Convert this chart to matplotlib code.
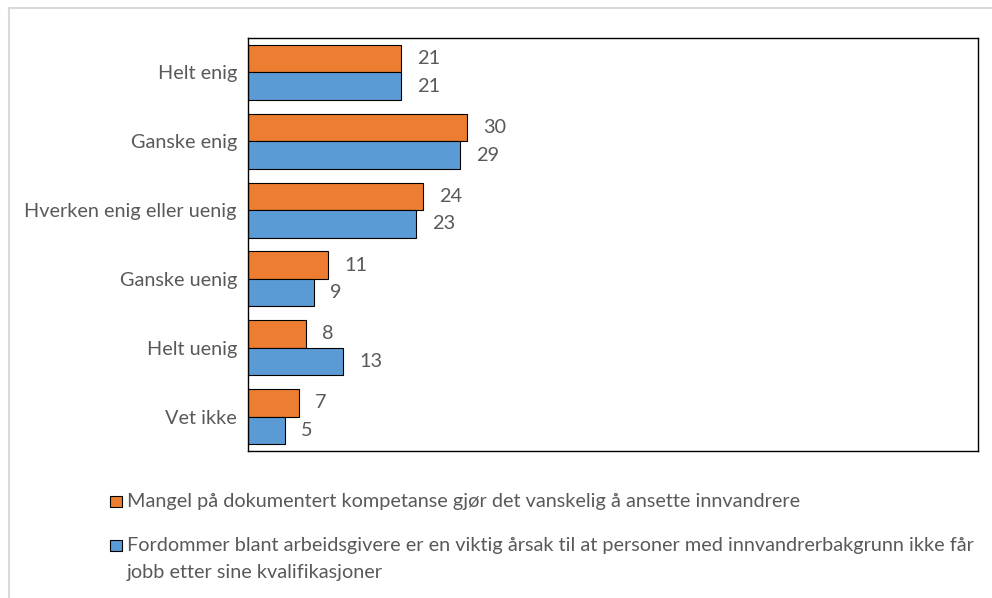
import matplotlib.pyplot as plt
import numpy as np
from matplotlib.lines import Line2D
from matplotlib.patches import Rectangle

plt.rcParams["font.family"] = ["Lato", "DejaVu Sans"]

categories = ["Helt enig", "Ganske enig", "Hverken enig eller uenig",
              "Ganske uenig", "Helt uenig", "Vet ikke"]
mangel = [21, 30, 24, 11, 8, 7]
fordommer = [21, 29, 23, 9, 13, 5]
labels = [
    "Mangel på dokumentert kompetanse gjør det vanskelig å ansette innvandrere",
    "Fordommer blant arbeidsgivere er en viktig årsak til at personer med "
    "innvandrerbakgrunn ikke får\njobb etter sine kvalifikasjoner",
]

ORANGE = "#ED7D31"
BLUE = "#5B9BD5"
GREY_TXT = "#595959"
W, H = 992, 598
FS = 14.3

fig = plt.figure(figsize=(W / 100, H / 100), dpi=100)
ax = fig.add_axes([248 / W, 1 - 451 / H, (978 - 248) / W, (451 - 38) / H])

y = np.arange(len(categories))
bh = 0.4
b1 = ax.barh(y - bh / 2, mangel, height=bh, color=ORANGE, edgecolor="black", lw=0.8)
b2 = ax.barh(y + bh / 2, fordommer, height=bh, color=BLUE, edgecolor="black", lw=0.8)
for bars in (b1, b2):
    for r in bars:
        ax.annotate(f"{r.get_width():g}", (r.get_width(), r.get_y() + r.get_height() / 2),
                    xytext=(11.5, 0), textcoords="offset points", va="center",
                    ha="left", fontsize=FS, color=GREY_TXT)

ax.set_xlim(0, 100)
ax.set_ylim(len(categories) - 0.5, -0.5)
ax.set_yticks(y)
ax.set_yticklabels(categories, fontsize=FS, color=GREY_TXT)
ax.tick_params(axis="y", length=0, pad=8)
ax.set_xticks([])
for s in ax.spines.values():
    s.set_color("black")
    s.set_linewidth(1.0)

# light grey chart-area border (top + left)
fig.add_artist(Line2D([9 / W, 1], [1 - 8 / H, 1 - 8 / H], transform=fig.transFigure,
                      color="#d9d9d9", lw=1.5))
fig.add_artist(Line2D([9 / W, 9 / W], [0, 1 - 8 / H], transform=fig.transFigure,
                      color="#d9d9d9", lw=1.5))

# legend, drawn by hand so the marker sits on the first text line
for col, lab, ytop in [(ORANGE, labels[0], 496), (BLUE, labels[1], 540)]:
    fig.add_artist(Rectangle((110 / W, 1 - (ytop + 11) / H), 12 / W, 11 / H,
                             transform=fig.transFigure, facecolor=col,
                             edgecolor="black", lw=0.8))
    for i, line in enumerate(lab.split("\n")):
        fig.text(127 / W, 1 - (ytop + 11 + 27 * i) / H, line, fontsize=FS,
                 color=GREY_TXT, va="baseline", ha="left")

fig.savefig("out.png", dpi=100)
